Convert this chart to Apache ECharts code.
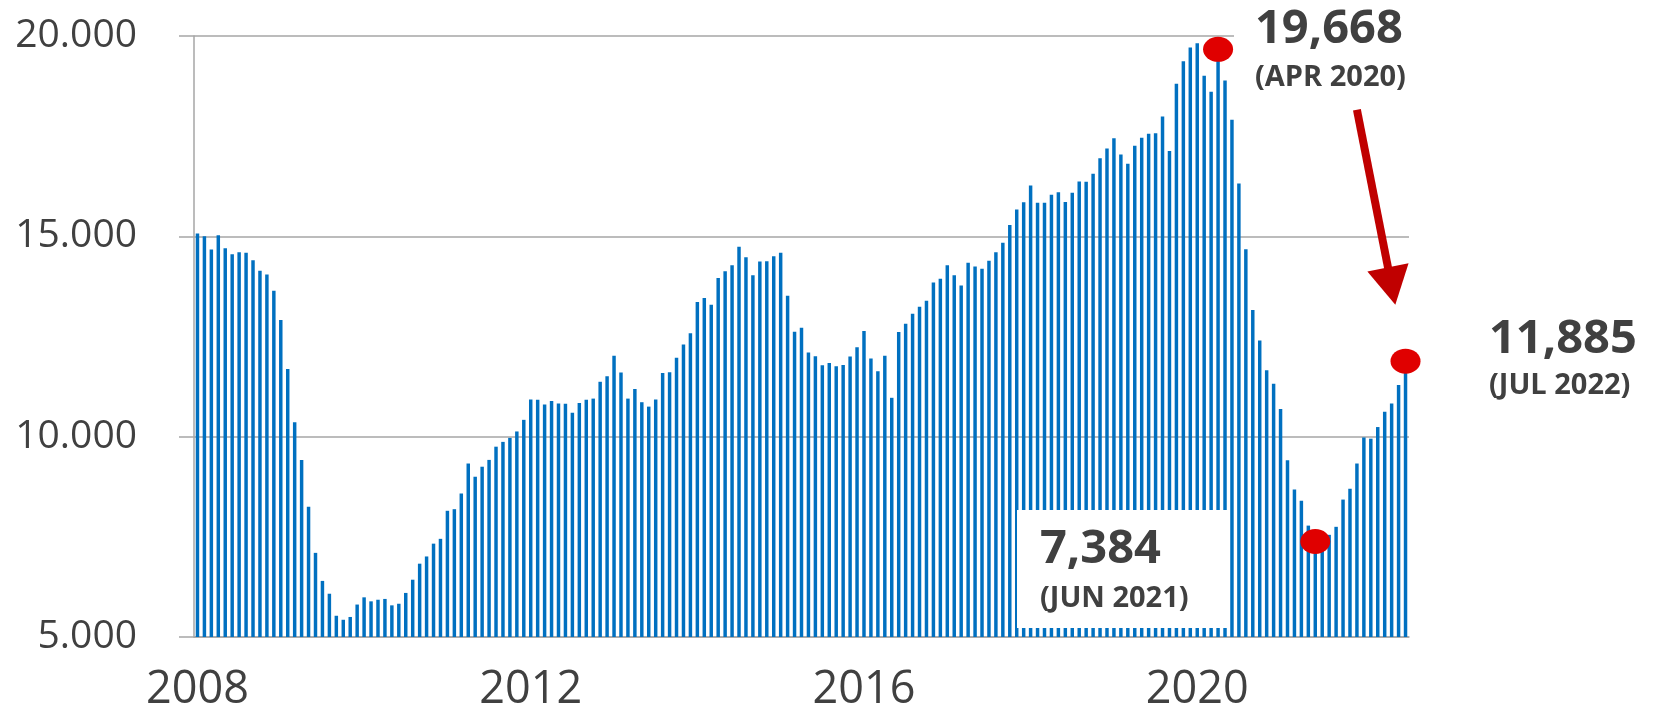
<!DOCTYPE html>
<html>
<head>
<meta charset="utf-8">
<script src="https://cdn.jsdelivr.net/npm/echarts@6/dist/echarts.min.js"></script>
<style>
html, body { margin: 0; padding: 0; background: #fff; }
#main { width: 1656px; height: 713px; }
</style>
</head>
<body>
<div id="main"></div>
<script>
var startYear = 2008;
// monthly values, one row per year (Jan..Dec)
var values = [
    15070, 15000, 14670, 15030, 14700, 14550, 14600, 14590, 14400, 14140, 14050, 13640,
    12910, 11690, 10360, 9420, 8250, 7100, 6400, 6080, 5530, 5430, 5500, 5810,
    5990, 5890, 5930, 5950, 5790, 5830, 6100, 6430, 6830, 7010, 7330, 7450,
    8150, 8190, 8580, 9330, 9000, 9250, 9420, 9750, 9870, 9970, 10130, 10420,
    10930, 10920, 10800, 10890, 10830, 10820, 10600, 10840, 10920, 10950, 11370, 11510,
    12020, 11600, 10950, 11190, 10860, 10750, 10930, 11590, 11610, 11970, 12300, 12580,
    13360, 13460, 13290, 13960, 14130, 14280, 14740, 14480, 14030, 14370, 14380, 14500,
    14590, 13520, 12620, 12720, 12100, 12010, 11780, 11840, 11760, 11790, 12000, 12230,
    12640, 11950, 11630, 12020, 10970, 12610, 12820, 13070, 13240, 13390, 13850, 13940,
    14280, 14030, 13770, 14340, 14250, 14190, 14390, 14600, 14840, 15280, 15670, 15850,
    16270, 15840, 15840, 16040, 16100, 15860, 16090, 16370, 16360, 16560, 16950, 17190,
    17450, 17040, 16810, 17260, 17460, 17560, 17570, 17990, 17130, 18810, 19370, 19710,
    19820, 19010, 18610, 19668, 18890, 17910, 16320, 14680, 13160, 12400, 11660, 11320,
    10690, 9410, 8680, 8400, 7780, 7384, 7420, 7550, 7750, 8430, 8700, 9330,
    9980, 9950, 10240, 10620, 10830, 11290, 11885
];
var yTicks = [5000, 10000, 15000, 20000];
var markedMonths = ['2020-04', '2021-06', '2022-07'];
var markedNames = ['(APR 2020)', '(JUN 2021)', '(JUL 2022)'];
// arrow drawn from / to these months and levels
var arrowFrom = ['2021-12', 18160];
var arrowTo = ['2022-05', 13760];

var months = [];
for (var k = 0; k < values.length; k++) {
    var yr = startYear + Math.floor(k / 12), mo = k % 12 + 1;
    months.push(yr + '-' + (mo < 10 ? '0' + mo : mo));
}
var marked = markedMonths.map(function (m) {
    return [m, values[months.indexOf(m)]];
});

function dots(v) {
    return String(v).replace(/\B(?=(\d{3})+(?!\d))/g, '.');
}
function commas(v) {
    return String(v).replace(/\B(?=(\d{3})+(?!\d))/g, ',');
}

var font = '"Open Sans", "DejaVu Sans", sans-serif';
var grey = '#a6a6a6';
var textColor = '#404040';

var myChart = echarts.init(document.getElementById('main'));

// annotation boxes (white background + value + month)
var notes = [
    { box: [1234, 0, 190, 100], x: 1255, y: 30, y2: 78 },
    { box: [1017, 510, 213, 118], x: 1040, y: 550, y2: 599 },
    { box: null, x: 1489, y: 340, y2: 386 }
];
var graphics = [];
notes.forEach(function (n, i) {
    if (n.box) {
        graphics.push({
            type: 'rect', z: 50,
            shape: { x: n.box[0], y: n.box[1], width: n.box[2], height: n.box[3] },
            style: { fill: '#fff' }
        });
    }
    graphics.push({
        type: 'text', z: 51, x: n.x, y: n.y,
        style: { text: commas(marked[i][1]), font: 'bold 47px ' + font, fill: textColor, align: 'left', verticalAlign: 'middle' }
    });
    graphics.push({
        type: 'text', z: 51, x: n.x, y: n.y2,
        style: { text: markedNames[i], font: 'bold 29px ' + font, fill: textColor, align: 'left', verticalAlign: 'middle' }
    });
});

option = {
    animation: false,
    grid: { left: 194, right: 247, top: 36, bottom: 74 },
    xAxis: {
        type: 'category',
        data: months,
        boundaryGap: true,
        axisLine: { lineStyle: { color: grey, width: 1.5 } },
        axisTick: { interval: 11, length: 16, lineStyle: { color: grey, width: 1.5 } },
        axisLabel: {
            interval: 47,
            margin: 31,
            fontSize: 45,
            fontFamily: font,
            color: textColor,
            formatter: function (v) { return v.slice(0, 4); }
        }
    },
    yAxis: {
        type: 'value',
        min: yTicks[0],
        max: yTicks[yTicks.length - 1],
        interval: yTicks[1] - yTicks[0],
        axisLine: { show: true, lineStyle: { color: grey, width: 1.5 } },
        axisTick: { show: true, length: 15, lineStyle: { color: grey, width: 1.5 } },
        splitLine: { lineStyle: { color: grey, width: 1.5 } },
        axisLabel: {
            margin: 57,
            fontSize: 39,
            fontFamily: font,
            color: textColor,
            formatter: dots
        }
    },
    series: [
        {
            type: 'bar',
            data: values,
            barWidth: '50%',
            itemStyle: { color: '#0070c0' }
        },
        {
            type: 'scatter',
            data: marked,
            symbol: 'circle',
            symbolSize: [30, 25],
            itemStyle: { color: '#e00000', opacity: 1 },
            z: 60,
            markLine: {
                silent: true,
                animation: false,
                lineStyle: { color: '#c00000', width: 8, type: 'solid', opacity: 1 },
                label: { show: false },
                data: [[
                    { coord: arrowFrom, symbol: 'none' },
                    { coord: arrowTo, symbol: 'triangle', symbolSize: [42, 38] }
                ]]
            }
        }
    ],
    graphic: graphics
};
myChart.setOption(option);
</script>
</body>
</html>
